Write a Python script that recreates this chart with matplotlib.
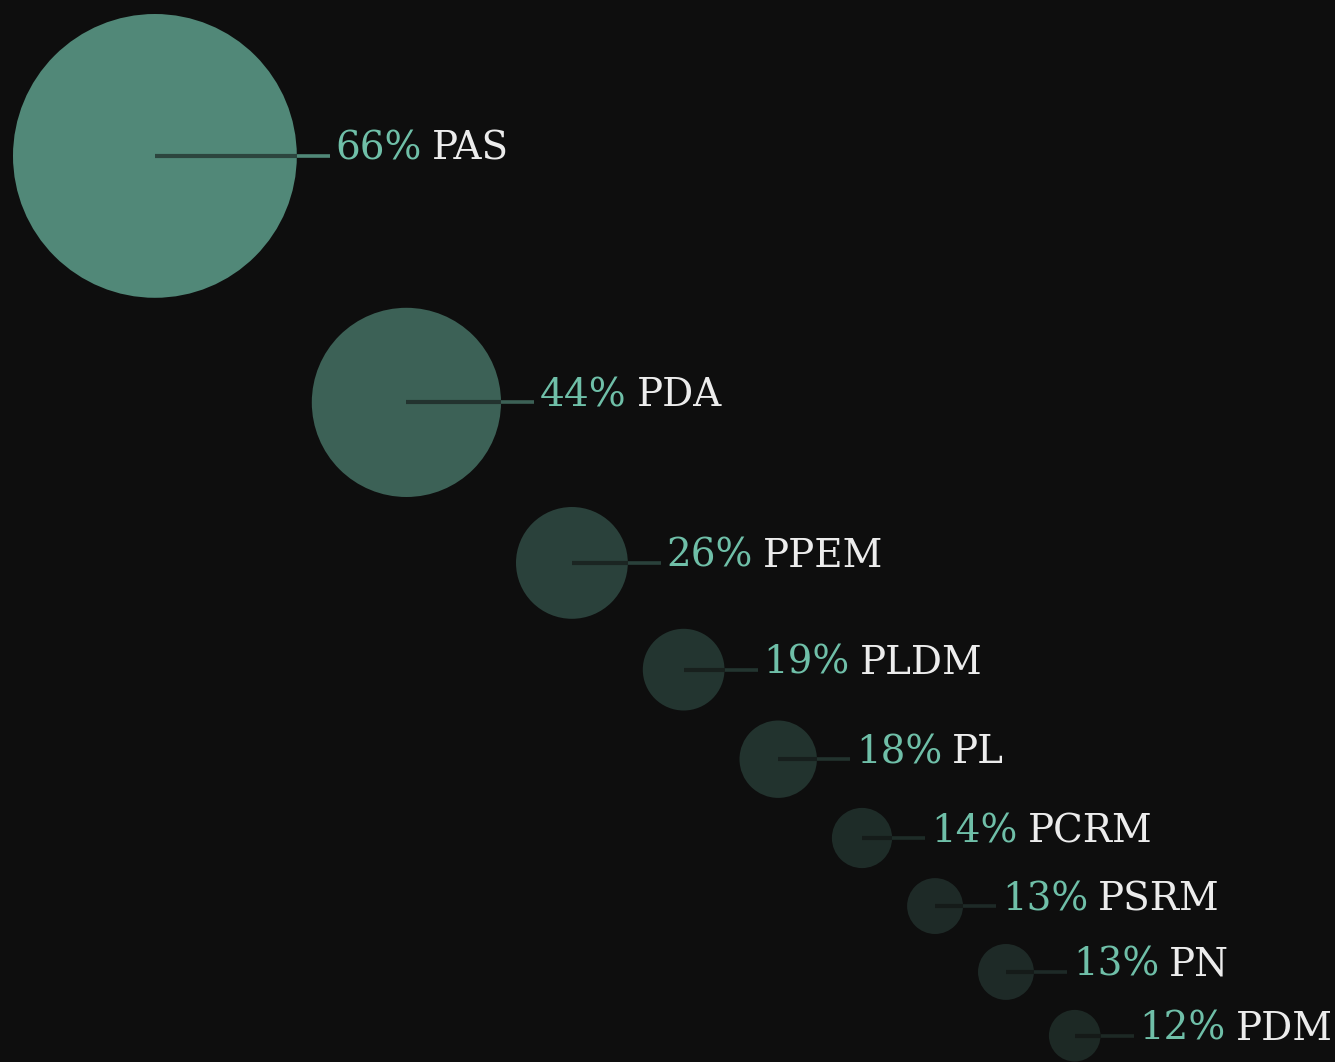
import matplotlib
matplotlib.use("Agg")
import matplotlib.pyplot as plt
from matplotlib.patches import Circle
from matplotlib.colors import to_rgb

# ---- data ----
names = ["PAS", "PDA", "PPEM", "PLDM", "PL", "PCRM", "PSRM", "PN", "PDM"]
values = [66, 44, 26, 19, 18, 14, 13, 13, 12]

# ---- style ----
W, H = 1335, 1062
BG = "#0e0e0e"
TEAL = "#6fbfa8"
WHITE = "#ececec"
R_SCALE = 2.15          # px of radius per percentage point
GAP_X, GAP_Y = 15, 10
START_X, START_Y = 13, 14
LINE_EXT = 33
FONT = "DejaVu Serif"
FS = 28

fig = plt.figure(figsize=(W / 100, H / 100), dpi=100, facecolor=BG)
ax = fig.add_axes([0, 0, 1, 1])
ax.set_facecolor(BG)
ax.set_xlim(0, W)
ax.set_ylim(H, 0)
ax.set_aspect("equal")
ax.axis("off")

bg = to_rgb(BG)
teal = to_rgb(TEAL)

def blend(a):
    return tuple(a * t + (1 - a) * b for t, b in zip(teal, bg))

left, top = START_X, START_Y
texts = []
for name, v in zip(names, values):
    r = v * R_SCALE
    cx, cy = left + r, top + r
    a = min(1.0, v / 100 + 0.03)
    col = blend(a)
    ax.add_patch(Circle((cx, cy), r, facecolor=col, edgecolor="none", zorder=1))
    inner = tuple(c * 0.45 + b * 0.55 for c, b in zip(col, bg))
    ax.plot([cx, cx + r], [cy, cy], color=inner, lw=3, solid_capstyle="butt", zorder=2)
    ax.plot([cx + r, cx + r + LINE_EXT], [cy, cy], color=col, lw=2.6,
            solid_capstyle="butt", zorder=2)
    t = ax.text(cx + r + LINE_EXT + 6, cy + 4, f"{v}%", color=TEAL, fontsize=FS,
                family=FONT, va="baseline", ha="left", zorder=3)
    texts.append((t, name, cy))
    left = cx + r + GAP_X
    top = cy + r + GAP_Y

fig.canvas.draw()
renderer = fig.canvas.get_renderer()
inv = ax.transData.inverted()
for t, name, cy in texts:
    bb = t.get_window_extent(renderer)
    x1 = inv.transform((bb.x1, bb.y0))[0]
    ax.text(x1 + 10, cy + 4, name, color=WHITE, fontsize=FS, family=FONT,
            va="baseline", ha="left", zorder=3)

fig.savefig("out.png", dpi=100, facecolor=BG)
